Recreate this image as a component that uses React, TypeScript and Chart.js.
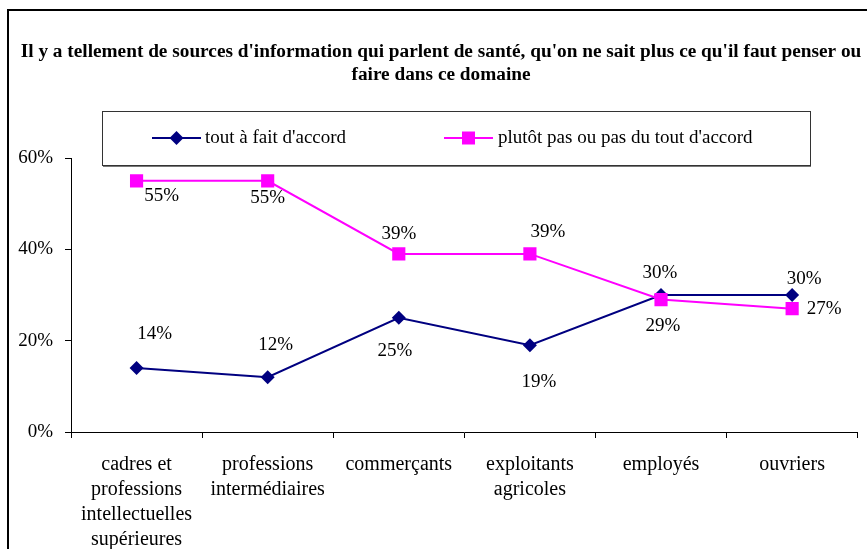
import React, { useEffect, useRef } from 'react';
import { Chart, registerables } from 'chart.js';

Chart.register(...registerables);

const titleLines = [
  "Il y a tellement de sources d'information qui parlent de santé, qu'on ne sait plus ce qu'il faut penser ou",
  'faire dans ce domaine',
];
const categories = [
  ['cadres et', 'professions', 'intellectuelles', 'supérieures'],
  ['professions', 'intermédiaires'],
  ['commerçants'],
  ['exploitants', 'agricoles'],
  ['employés'],
  ['ouvriers'],
];
const seriesNames = ["tout à fait d'accord", "plutôt pas ou pas du tout d'accord"];
const toutAFait = [14, 12, 25, 19, 30, 30];
const plutotPas = [55, 55, 39, 39, 29, 27];
const yTicks = [0, 20, 40, 60];

const SERIF = "'Liberation Serif', 'Times New Roman', serif";
const BLUE = '#000080';
const PINK = '#FF00FF';

// label placement (dx, dy) relative to each point, per series
const labelOffsets = [
  [[18, -34], [8, -32], [-4, 33], [9, 37], [-1, -22], [12, -16]],
  [[25, 15], [0, 17], [0, -20], [18, -22], [2, 26], [32, 0]],
];

function drawMarker(ctx: CanvasRenderingContext2D, kind: string, x: number, y: number, color: string) {
  ctx.fillStyle = color;
  ctx.beginPath();
  if (kind === 'diamond') {
    const r = 7;
    ctx.moveTo(x - r, y);
    ctx.lineTo(x, y - r);
    ctx.lineTo(x + r, y);
    ctx.lineTo(x, y + r);
    ctx.closePath();
  } else {
    const s = 13;
    ctx.rect(x - s / 2, y - s / 2, s, s);
  }
  ctx.fill();
}

const decorPlugin = {
  id: 'decor',
  beforeDraw(chart: any) {
    const ctx = chart.ctx as CanvasRenderingContext2D;
    ctx.save();
    ctx.fillStyle = '#fff';
    ctx.fillRect(0, 0, chart.width, chart.height);
    ctx.strokeStyle = '#000';
    ctx.lineWidth = 2;
    ctx.strokeRect(8, 10, chart.width + 20, chart.height + 20);
    ctx.restore();
  },
  afterDatasetsDraw(chart: any) {
    const ctx = chart.ctx as CanvasRenderingContext2D;
    ctx.save();
    ctx.font = `19px ${SERIF}`;
    ctx.fillStyle = '#000';
    ctx.textAlign = 'center';
    ctx.textBaseline = 'middle';
    chart.data.datasets.forEach((ds: any, i: number) => {
      const meta = chart.getDatasetMeta(i);
      meta.data.forEach((pt: any, j: number) => {
        const [dx, dy] = labelOffsets[i][j];
        ctx.fillText(`${ds.data[j]}%`, pt.x + dx, pt.y + dy);
      });
    });
    ctx.restore();
  },
  afterDraw(chart: any) {
    const ctx = chart.ctx as CanvasRenderingContext2D;
    ctx.save();
    // title
    ctx.fillStyle = '#000';
    ctx.font = `bold 19.3px ${SERIF}`;
    ctx.textAlign = 'center';
    ctx.textBaseline = 'alphabetic';
    ctx.fillText(titleLines[0], 441, 57);
    ctx.fillText(titleLines[1], 441, 80);
    // legend box
    ctx.fillStyle = '#fff';
    ctx.fillRect(102, 111, 708, 54);
    ctx.strokeStyle = '#333';
    ctx.lineWidth = 1;
    ctx.strokeRect(102.5, 111.5, 708, 54);
    ctx.strokeStyle = '#777';
    ctx.beginPath();
    ctx.moveTo(103, 166.5);
    ctx.lineTo(811, 166.5);
    ctx.stroke();
    const ly = 138;
    const items = [
      { x0: 152, x1: 201, color: BLUE, kind: 'diamond', text: seriesNames[0], tx: 205 },
      { x0: 444, x1: 493, color: PINK, kind: 'square', text: seriesNames[1], tx: 498 },
    ];
    items.forEach((it) => {
      ctx.strokeStyle = it.color;
      ctx.lineWidth = 2;
      ctx.beginPath();
      ctx.moveTo(it.x0, ly);
      ctx.lineTo(it.x1, ly);
      ctx.stroke();
      drawMarker(ctx, it.kind, (it.x0 + it.x1) / 2, ly, it.color);
      ctx.fillStyle = '#000';
      ctx.font = `19px ${SERIF}`;
      ctx.textAlign = 'left';
      ctx.textBaseline = 'middle';
      ctx.fillText(it.text, it.tx, ly);
    });
    ctx.restore();
  },
};

export default function App() {
  const ref = useRef<HTMLCanvasElement | null>(null);
  useEffect(() => {
    if (!ref.current) return;
    const chart = new Chart(ref.current, {
      type: 'line',
      data: {
        labels: categories as any,
        datasets: [
          {
            label: seriesNames[0],
            data: toutAFait,
            borderColor: BLUE,
            backgroundColor: BLUE,
            borderWidth: 2,
            pointStyle: 'rectRot',
            pointRadius: 7,
            pointBorderWidth: 0,
            pointHoverRadius: 7,
            tension: 0,
            order: 1,
          },
          {
            label: seriesNames[1],
            data: plutotPas,
            borderColor: PINK,
            backgroundColor: PINK,
            borderWidth: 2,
            pointStyle: 'rect',
            pointRadius: 9.3,
            pointBorderWidth: 0,
            pointHoverRadius: 9.3,
            tension: 0,
            order: 0,
          },
        ],
      },
      options: {
        animation: false,
        responsive: false,
        events: [],
        layout: { padding: { top: 158, left: 18, right: 7, bottom: 0 } },
        plugins: {
          legend: { display: false },
          title: { display: false },
          tooltip: { enabled: false },
        },
        scales: {
          x: {
            type: 'category',
            offset: true,
            grid: {
              offset: true,
              drawOnChartArea: false,
              drawTicks: true,
              tickLength: 6,
              color: '#000',
            },
            border: { display: true, color: '#000', width: 1 },
            ticks: {
              color: '#000',
              font: { family: SERIF, size: 20, lineHeight: 1.25 },
              padding: 14,
              maxRotation: 0,
              minRotation: 0,
              autoSkip: false,
            },
            afterFit(scale: any) {
              scale.height = 117;
            },
          },
          y: {
            type: 'linear',
            min: 0,
            max: 60,
            grid: {
              drawOnChartArea: false,
              drawTicks: true,
              tickLength: 6,
              color: '#000',
            },
            border: { display: true, color: '#000', width: 1 },
            afterBuildTicks(scale: any) {
              scale.ticks = yTicks.map((v) => ({ value: v }));
            },
            ticks: {
              color: '#000',
              font: { family: SERIF, size: 19 },
              padding: 12,
              callback: (v: any) => `${v}%`,
            },
            afterFit(scale: any) {
              scale.width = 53;
            },
          },
        },
      },
      plugins: [decorPlugin],
    });
    return () => chart.destroy();
  }, []);
  return (
    <div style={{ position: 'fixed', left: 0, top: 0, width: 867, height: 549, background: '#fff' }}>
      <canvas ref={ref} width={867} height={549} style={{ display: 'block' }} />
    </div>
  );
}
